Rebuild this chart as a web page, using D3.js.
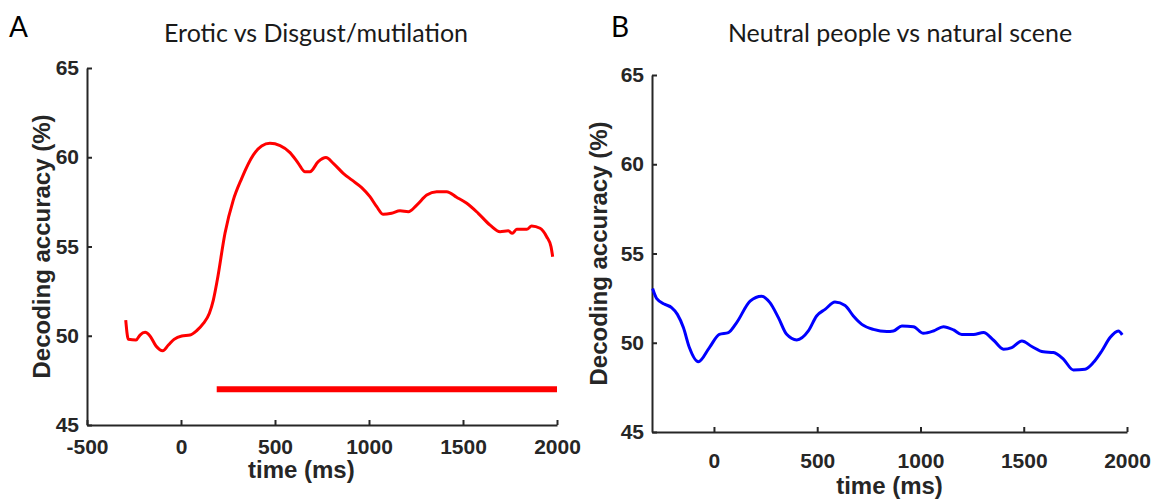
<!DOCTYPE html>
<html>
<head>
<meta charset="utf-8">
<script src="https://cdn.jsdelivr.net/npm/d3@7"></script>
<style>
  body { margin: 0; background: #fff; }
  .tick text { font-family: "Liberation Sans", Arial, sans-serif; font-weight: bold; font-size: 21px; fill: #262626; }
  .axis path, .axis line { stroke: #262626; stroke-width: 2px; }
  .lab { font-family: "Liberation Sans", Arial, sans-serif; font-weight: bold; font-size: 24px; fill: #262626; }
  .ttl { font-family: Lato, "Open Sans", sans-serif; font-size: 25px; fill: #1a1a1a; }
  .pan { font-family: Lato, "Open Sans", sans-serif; font-size: 28px; fill: #000; }
</style>
</head>
<body>
<div id="chart"></div>
<script>
// panel A: erotic vs disgust/mutilation
var redTime = [-294, -280, -239, -218, -191, -165, -133, -97, -67, -37, 4, 48, 83, 119, 151, 172, 193,
  234, 278, 323, 385, 429, 473, 527, 580, 624, 660, 686, 730, 771, 810, 863, 908, 961, 1005,
  1041, 1076, 1120, 1165, 1209, 1254, 1307, 1360, 1413, 1466, 1520, 1581, 1644, 1697, 1741,
  1762, 1786, 1839, 1865, 1910, 1945, 1968, 1977];
var redAcc = [50.88, 49.8, 49.76, 50.04, 50.19, 49.99, 49.43, 49.16, 49.48, 49.8, 49.99, 50.04, 50.28, 50.69, 51.26, 52.0, 53.12,
  55.74, 57.6, 58.82, 60.13, 60.63, 60.78, 60.65, 60.26, 59.66, 59.19, 59.19, 59.75, 59.98, 59.66, 59.1, 58.73, 58.3, 57.79,
  57.23, 56.8, 56.86, 57.0, 56.95, 57.32, 57.88, 58.07, 58.07, 57.76, 57.42, 56.86, 56.2, 55.83, 55.88,
  55.74, 55.96, 55.96, 56.15, 56.02, 55.55, 54.99, 54.43];
var sigBar = [190, 2000];
var sigLevel = 47;

// panel B: neutral people vs natural scene
var blueTime = [-297, -277, -237, -205, -177, -148, -119, -76, -22, 26, 70, 110, 175, 231, 271, 312, 352, 401,
  457, 497, 538, 586, 635, 675, 716, 772, 837, 869, 910, 966, 1014, 1063, 1111, 1160, 1200, 1257,
  1305, 1354, 1402, 1442, 1491, 1539, 1595, 1644, 1692, 1740, 1797, 1837, 1878, 1918, 1958, 1977];
var blueAcc = [53.04, 52.47, 52.15, 51.97, 51.59, 50.85, 49.73, 48.93, 49.73, 50.47, 50.57, 51.13, 52.33, 52.61, 52.25, 51.41, 50.47, 50.16,
  50.66, 51.5, 51.87, 52.28, 52.09, 51.5, 51.03, 50.75, 50.63, 50.66, 50.94, 50.9, 50.53, 50.66, 50.9, 50.72, 50.46, 50.46,
  50.57, 50.14, 49.64, 49.73, 50.1, 49.79, 49.49, 49.45, 49.08, 48.48, 48.52, 48.89, 49.54, 50.29, 50.66, 50.44];

var yTicks = [45, 50, 55, 60, 65];
var xTicksA = [-500, 0, 500, 1000, 1500, 2000];
var xTicksB = [0, 500, 1000, 1500, 2000];

var svg = d3.select("#chart").append("svg")
    .attr("width", 1153)
    .attr("height", 500);

function panel(o) {
  var x = d3.scaleLinear().domain(o.xDomain).range([o.left, o.right]);
  var y = d3.scaleLinear().domain([45, 65]).range([o.bottom, o.top]);
  var g = svg.append("g");

  g.append("g").attr("class", "axis")
      .attr("transform", "translate(0," + o.bottom + ")")
      .call(d3.axisBottom(x).tickValues(o.xTicks).tickSizeInner(-5).tickSizeOuter(0).tickPadding(o.xPad).tickFormat(d3.format("d")));
  g.append("g").attr("class", "axis")
      .attr("transform", "translate(" + o.left + ",0)")
      .call(d3.axisLeft(y).tickValues(yTicks).tickSizeInner(-5).tickSizeOuter(0).tickPadding(8));
  g.selectAll(".tick text").text(function(d) { return d < 0 ? "-" + Math.abs(d) : d; });

  var line = d3.line()
      .x(function(d) { return x(d[0]); })
      .y(function(d) { return y(d[1]); })
      .curve(d3.curveMonotoneX);
  g.append("path")
      .datum(d3.zip(o.t, o.v))
      .attr("d", line)
      .attr("fill", "none")
      .attr("stroke", o.color)
      .attr("stroke-width", 3)
      .attr("stroke-linejoin", "round");

  if (o.bar) {
    g.append("line")
        .attr("x1", x(o.bar[0])).attr("x2", x(o.bar[1]))
        .attr("y1", y(sigLevel)).attr("y2", y(sigLevel))
        .attr("stroke", "#ff0000")
        .attr("stroke-width", 6);
  }

  g.append("text").attr("class", "lab")
      .attr("text-anchor", "middle")
      .attr("transform", "translate(" + o.ylabX + "," + ((o.top + o.bottom) / 2) + ") rotate(-90)")
      .text("Decoding accuracy (%)");
  g.append("text").attr("class", "lab")
      .attr("text-anchor", "middle")
      .attr("x", x(o.xlabAt)).attr("y", o.bottom + o.xlabOff)
      .text("time (ms)");
  g.append("text").attr("class", "ttl")
      .attr("text-anchor", "middle")
      .attr("x", o.titleX).attr("y", 42)
      .text(o.title);
  g.append("text").attr("class", "pan")
      .attr("x", o.panX).attr("y", 37)
      .text(o.letter);
}

panel({ xDomain: [-500, 2000], left: 87, right: 557, top: 68, bottom: 425, xTicks: xTicksA, xPad: 14,
  t: redTime, v: redAcc, color: "#ff0000", bar: sigBar, ylabX: 50, xlabAt: 640, xlabOff: 53,
  title: "Erotic vs Disgust/mutilation", titleX: 316, letter: "A", panX: 9 });
panel({ xDomain: [-300, 2000], left: 652, right: 1127, top: 75, bottom: 432, xTicks: xTicksB, xPad: 21,
  t: blueTime, v: blueAcc, color: "#0000ff", bar: null, ylabX: 607, xlabAt: 850, xlabOff: 62,
  title: "Neutral people vs natural scene", titleX: 900, letter: "B", panX: 611 });
</script>
</body>
</html>
